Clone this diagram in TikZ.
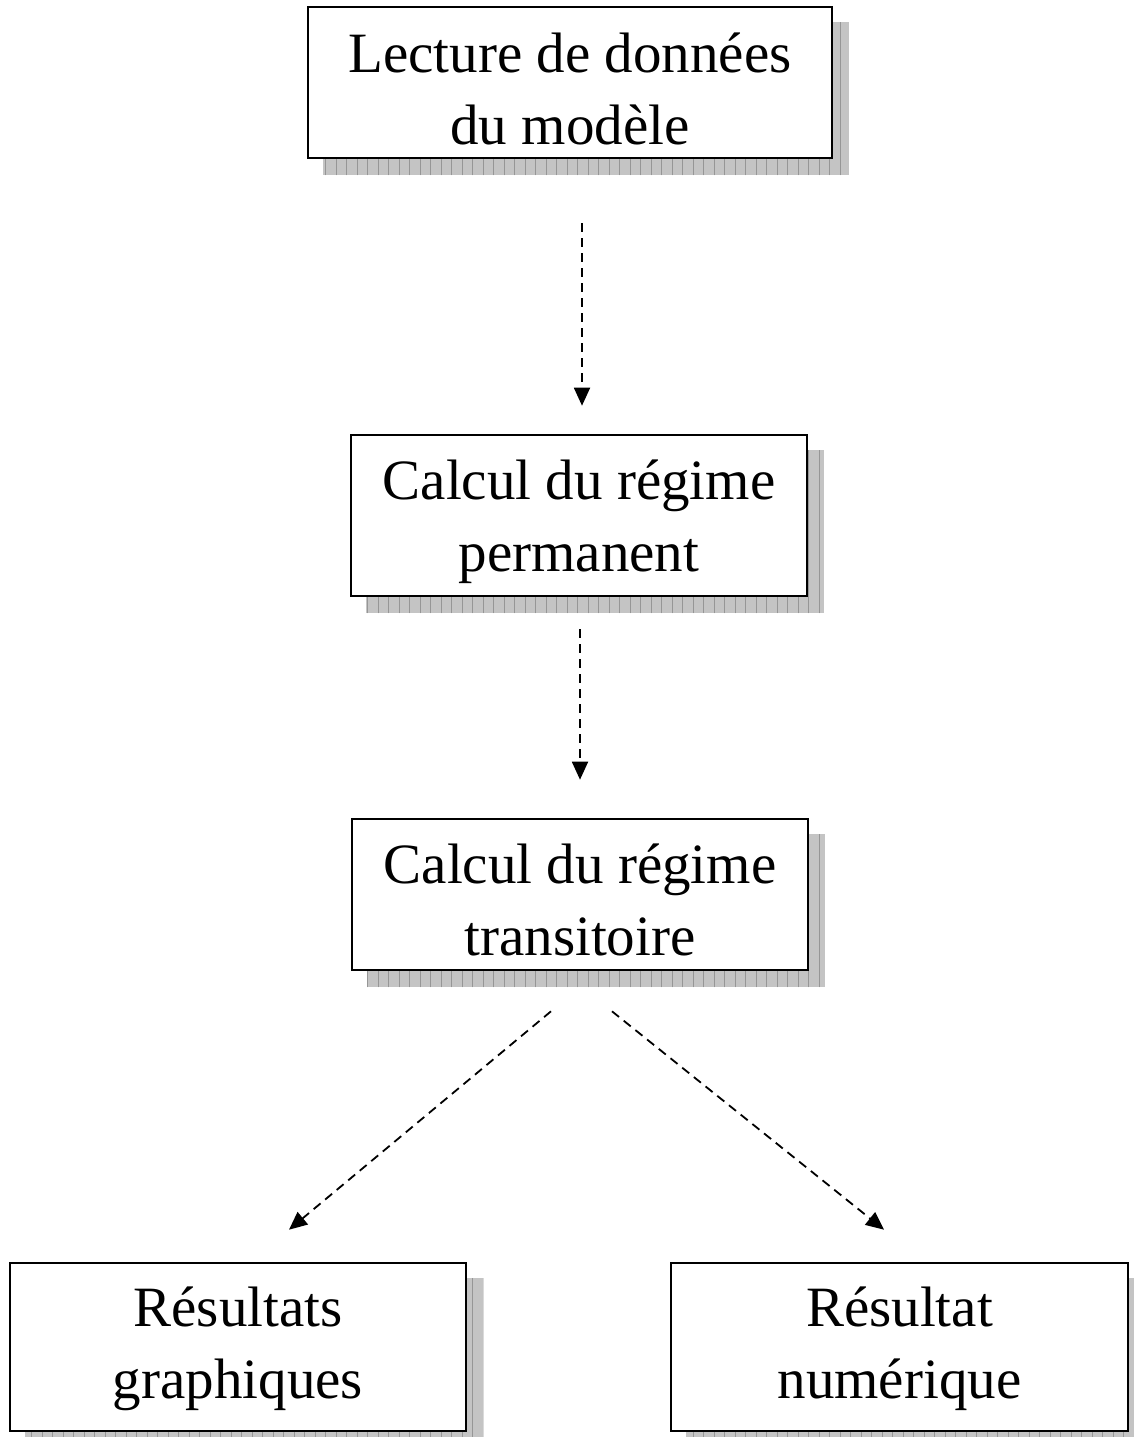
\documentclass[tikz,border=0pt]{standalone}
\usepackage{fontspec}
\setmainfont{Liberation Serif}
\usetikzlibrary{arrows.meta,calc,backgrounds}

\definecolor{shadefill}{RGB}{196,196,196}
\definecolor{shadeline}{RGB}{150,150,150}

\tikzset{
  stepbox/.style={draw=black, line width=2.6pt, fill=white, inner sep=0pt},
  steptext/.style={align=center, inner sep=0pt, font=\fontsize{57}{72}\selectfont},
  conn/.style={line width=1.8pt, dash pattern=on 9pt off 6pt,
    -{Triangle[length=18pt,width=16pt]}},
  shadefillstyle/.style={fill=shadefill},
  shadegrid/.style={draw=shadeline, line width=0.9pt},
}

% grey gridded drop shadow behind a named box
\newcommand\boxshade[1]{%
  \begin{scope}[on background layer]
    \begin{scope}
      \fill[shadefillstyle] ([shift={(16,16)}]#1.north west) rectangle ([shift={(16,16)}]#1.south east);
      \clip ([shift={(16,16)}]#1.north west) rectangle ([shift={(16,16)}]#1.south east);
      \draw[shadegrid, step=10.5] ([shift={(16,16)}]#1.north west) grid ([shift={(16,16)}]#1.south east);
    \end{scope}
  \end{scope}}

\begin{document}
\begin{tikzpicture}[x=1pt, y=-1pt]
  \useasboundingbox (0,0) rectangle (1134,1437);

  \node[stepbox, minimum width=524pt, minimum height=151pt] (b1) at (570,82.5) {};
  \node[stepbox, minimum width=456pt, minimum height=161pt] (b2) at (579,515.5) {};
  \node[stepbox, minimum width=456pt, minimum height=151pt] (b3) at (580,894.5) {};
  \node[stepbox, minimum width=456pt, minimum height=168pt] (b4) at (238,1347) {};
  \node[stepbox, minimum width=457pt, minimum height=168pt] (b5) at (899.5,1347) {};

  \node[steptext, yshift=-6pt] (t1) at (b1) {Lecture de données\\du modèle};
  \node[steptext, yshift=-6pt] (t2) at (b2) {Calcul du régime\\permanent};
  \node[steptext, yshift=-5pt] (t3) at (b3) {Calcul du régime\\transitoire};
  \node[steptext, yshift=-2pt] (t4) at (b4) {Résultats\\graphiques};
  \node[steptext, yshift=-2pt] (t5) at (b5) {Résultat\\numérique};

  \boxshade{b1}
  \boxshade{b2}
  \boxshade{b3}
  \boxshade{b4}
  \boxshade{b5}

  \draw[conn, shorten <=64pt, shorten >=28pt] ([xshift=12pt]b1.south) -- ([xshift=3pt]b2.north);
  \draw[conn, shorten <=32pt, shorten >=38pt] ([xshift=1pt]b2.south) -- (b3.north);

  \coordinate (l0) at ($(b3.south)+(-29,40)$);
  \coordinate (l1) at ($(b4.north)+(51,-32)$);
  \coordinate (r0) at ($(b3.south)+(32,40)$);
  \coordinate (r1) at ($(b5.north)+(-15.5,-32)$);
  \draw[conn] (l0) -- (l1);
  \draw[conn] (r0) -- (r1);
\end{tikzpicture}
\end{document}
